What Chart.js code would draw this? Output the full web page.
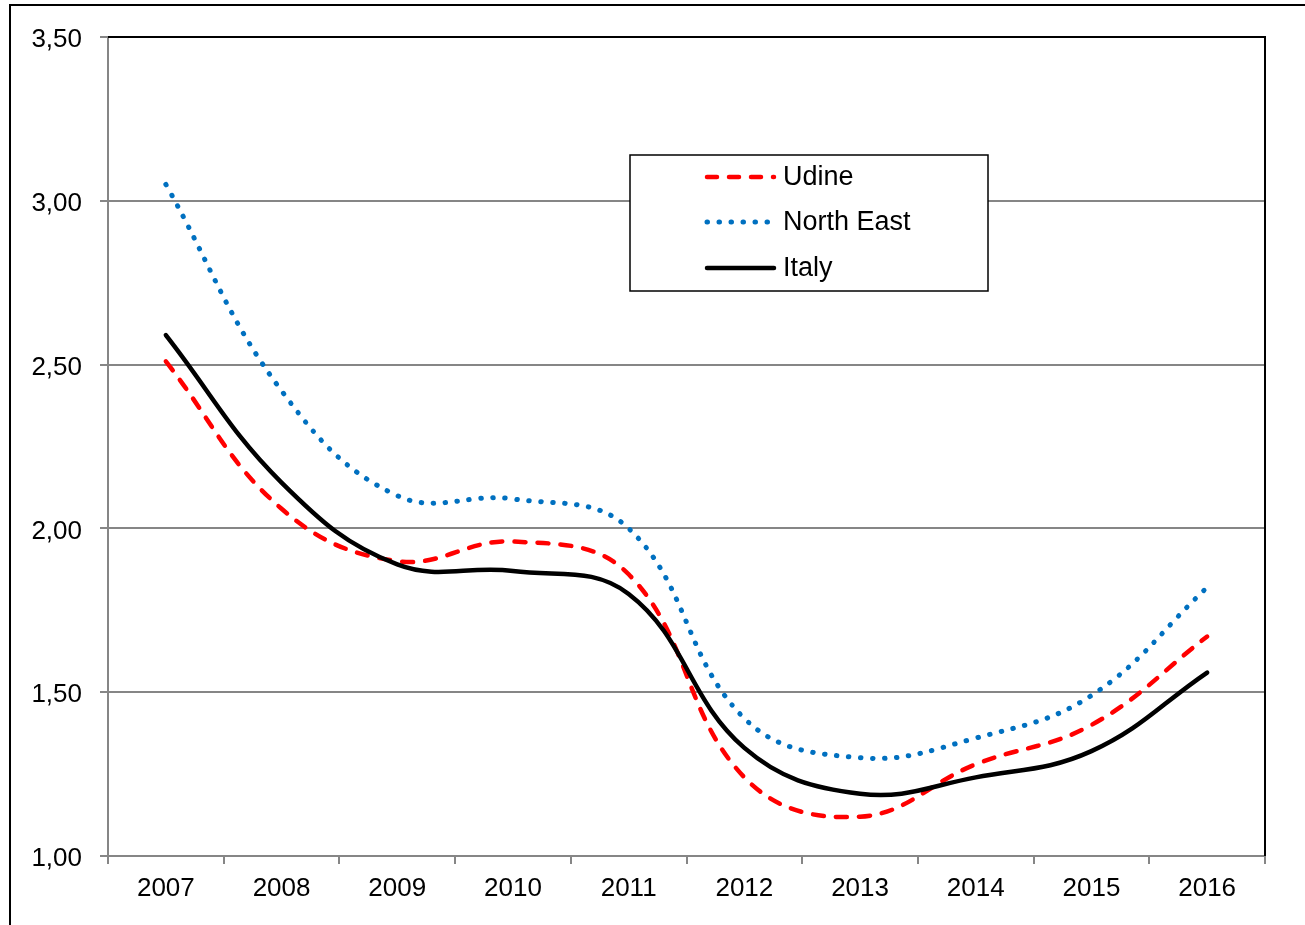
<!DOCTYPE html>
<html>
<head>
<meta charset="utf-8">
<script src="https://cdn.jsdelivr.net/npm/chart.js@4/dist/chart.umd.min.js"></script>
<style>
  html, body { margin: 0; padding: 0; background: #fff; }
  #wrap { width: 1305px; height: 925px; position: relative; }
</style>
</head>
<body>
<div id="wrap"><canvas id="chart" width="1305" height="925"></canvas></div>
<script>
const years = ["2007", "2008", "2009", "2010", "2011", "2012", "2013", "2014", "2015", "2016"];
const udine = [2.51, 2.06, 1.90, 1.96, 1.86, 1.24, 1.12, 1.28, 1.40, 1.67];
const northEast = [3.05, 2.42, 2.10, 2.09, 2.00, 1.42, 1.30, 1.36, 1.49, 1.82];
const italy = [2.59, 2.14, 1.89, 1.87, 1.80, 1.33, 1.19, 1.24, 1.32, 1.56];
const yTicks = [1.0, 1.5, 2.0, 2.5, 3.0, 3.5];

const FONT = "'Liberation Sans', Arial, sans-serif";

// outer frame, plot box top/right edges, and the boxed legend
const framePlugin = {
    id: 'frame',
    afterDraw(chart) {
        const ctx = chart.ctx;
        const a = chart.chartArea;
        ctx.save();
        ctx.strokeStyle = '#000';
        ctx.lineWidth = 2;
        ctx.beginPath();
        ctx.moveTo(10, 925);
        ctx.lineTo(10, 5);
        ctx.lineTo(1305, 5);
        ctx.stroke();

        ctx.lineWidth = 2;
        ctx.beginPath();
        ctx.moveTo(a.left, a.top);
        ctx.lineTo(a.right, a.top);
        ctx.lineTo(a.right, a.bottom);
        ctx.stroke();

        // legend
        ctx.fillStyle = '#fff';
        ctx.fillRect(630, 155, 358, 136);
        ctx.lineWidth = 1.5;
        ctx.strokeStyle = '#000';
        ctx.strokeRect(630, 155, 358, 136);
        const rows = [177, 222, 268];
        chart.data.datasets.forEach((ds, i) => {
            const y = rows[i];
            ctx.save();
            ctx.strokeStyle = ds.borderColor;
            ctx.lineWidth = ds.borderWidth;
            ctx.lineCap = ds.borderCapStyle || 'butt';
            ctx.setLineDash(ds.legendDash || []);
            ctx.beginPath();
            ctx.moveTo(707, y);
            ctx.lineTo(774, y);
            ctx.stroke();
            ctx.restore();
            ctx.fillStyle = '#000';
            ctx.font = '27px ' + FONT;
            ctx.textBaseline = 'middle';
            ctx.textAlign = 'left';
            ctx.fillText(ds.label, 783, y + 1);
        });
        ctx.restore();
    }
};

new Chart(document.getElementById('chart'), {
    type: 'line',
    data: {
        labels: years,
        datasets: [{
            label: 'Udine',
            data: udine,
            borderColor: '#ff0000',
            borderWidth: 4.5,
            borderDash: [11, 12],
            legendDash: [10, 12],
            borderCapStyle: 'round',
            pointRadius: 0,
            tension: 0.4,
            fill: false,
            order: 2
        }, {
            label: 'North East',
            data: northEast,
            borderColor: '#0070c0',
            borderWidth: 5,
            borderDash: [0.5, 11.5],
            legendDash: [0.5, 11.5],
            borderCapStyle: 'round',
            pointRadius: 0,
            tension: 0.4,
            fill: false,
            order: 3
        }, {
            label: 'Italy',
            data: italy,
            borderColor: '#000000',
            borderWidth: 4.5,
            borderCapStyle: 'round',
            pointRadius: 0,
            tension: 0.4,
            fill: false,
            order: 1
        }]
    },
    options: {
        responsive: false,
        animation: false,
        layout: { padding: { left: 0, top: 37, right: 40, bottom: 0 } },
        plugins: {
            legend: { display: false },
            tooltip: { enabled: false }
        },
        scales: {
            x: {
                offset: true,
                grid: {
                    offset: true,
                    drawOnChartArea: false,
                    drawTicks: true,
                    tickLength: 8,
                    color: '#868686',
                    lineWidth: 2
                },
                border: { color: '#868686', width: 2 },
                ticks: {
                    color: '#000',
                    font: { family: FONT, size: 26 },
                    padding: 9,
                    maxRotation: 0
                },
                afterFit(scale) { scale.height = 69; }
            },
            y: {
                min: 1,
                max: 3.5,
                afterBuildTicks(scale) { scale.ticks = yTicks.map(v => ({ value: v })); },
                grid: {
                    color: '#868686',
                    lineWidth: 2,
                    tickLength: 8
                },
                border: { color: '#868686', width: 2 },
                ticks: {
                    color: '#000',
                    font: { family: FONT, size: 26 },
                    padding: 18,
                    labelOffset: 3,
                    callback: v => v.toFixed(2).replace('.', ',')
                },
                afterFit(scale) { scale.width = 108; }
            }
        }
    },
    plugins: [framePlugin]
});
</script>
</body>
</html>
